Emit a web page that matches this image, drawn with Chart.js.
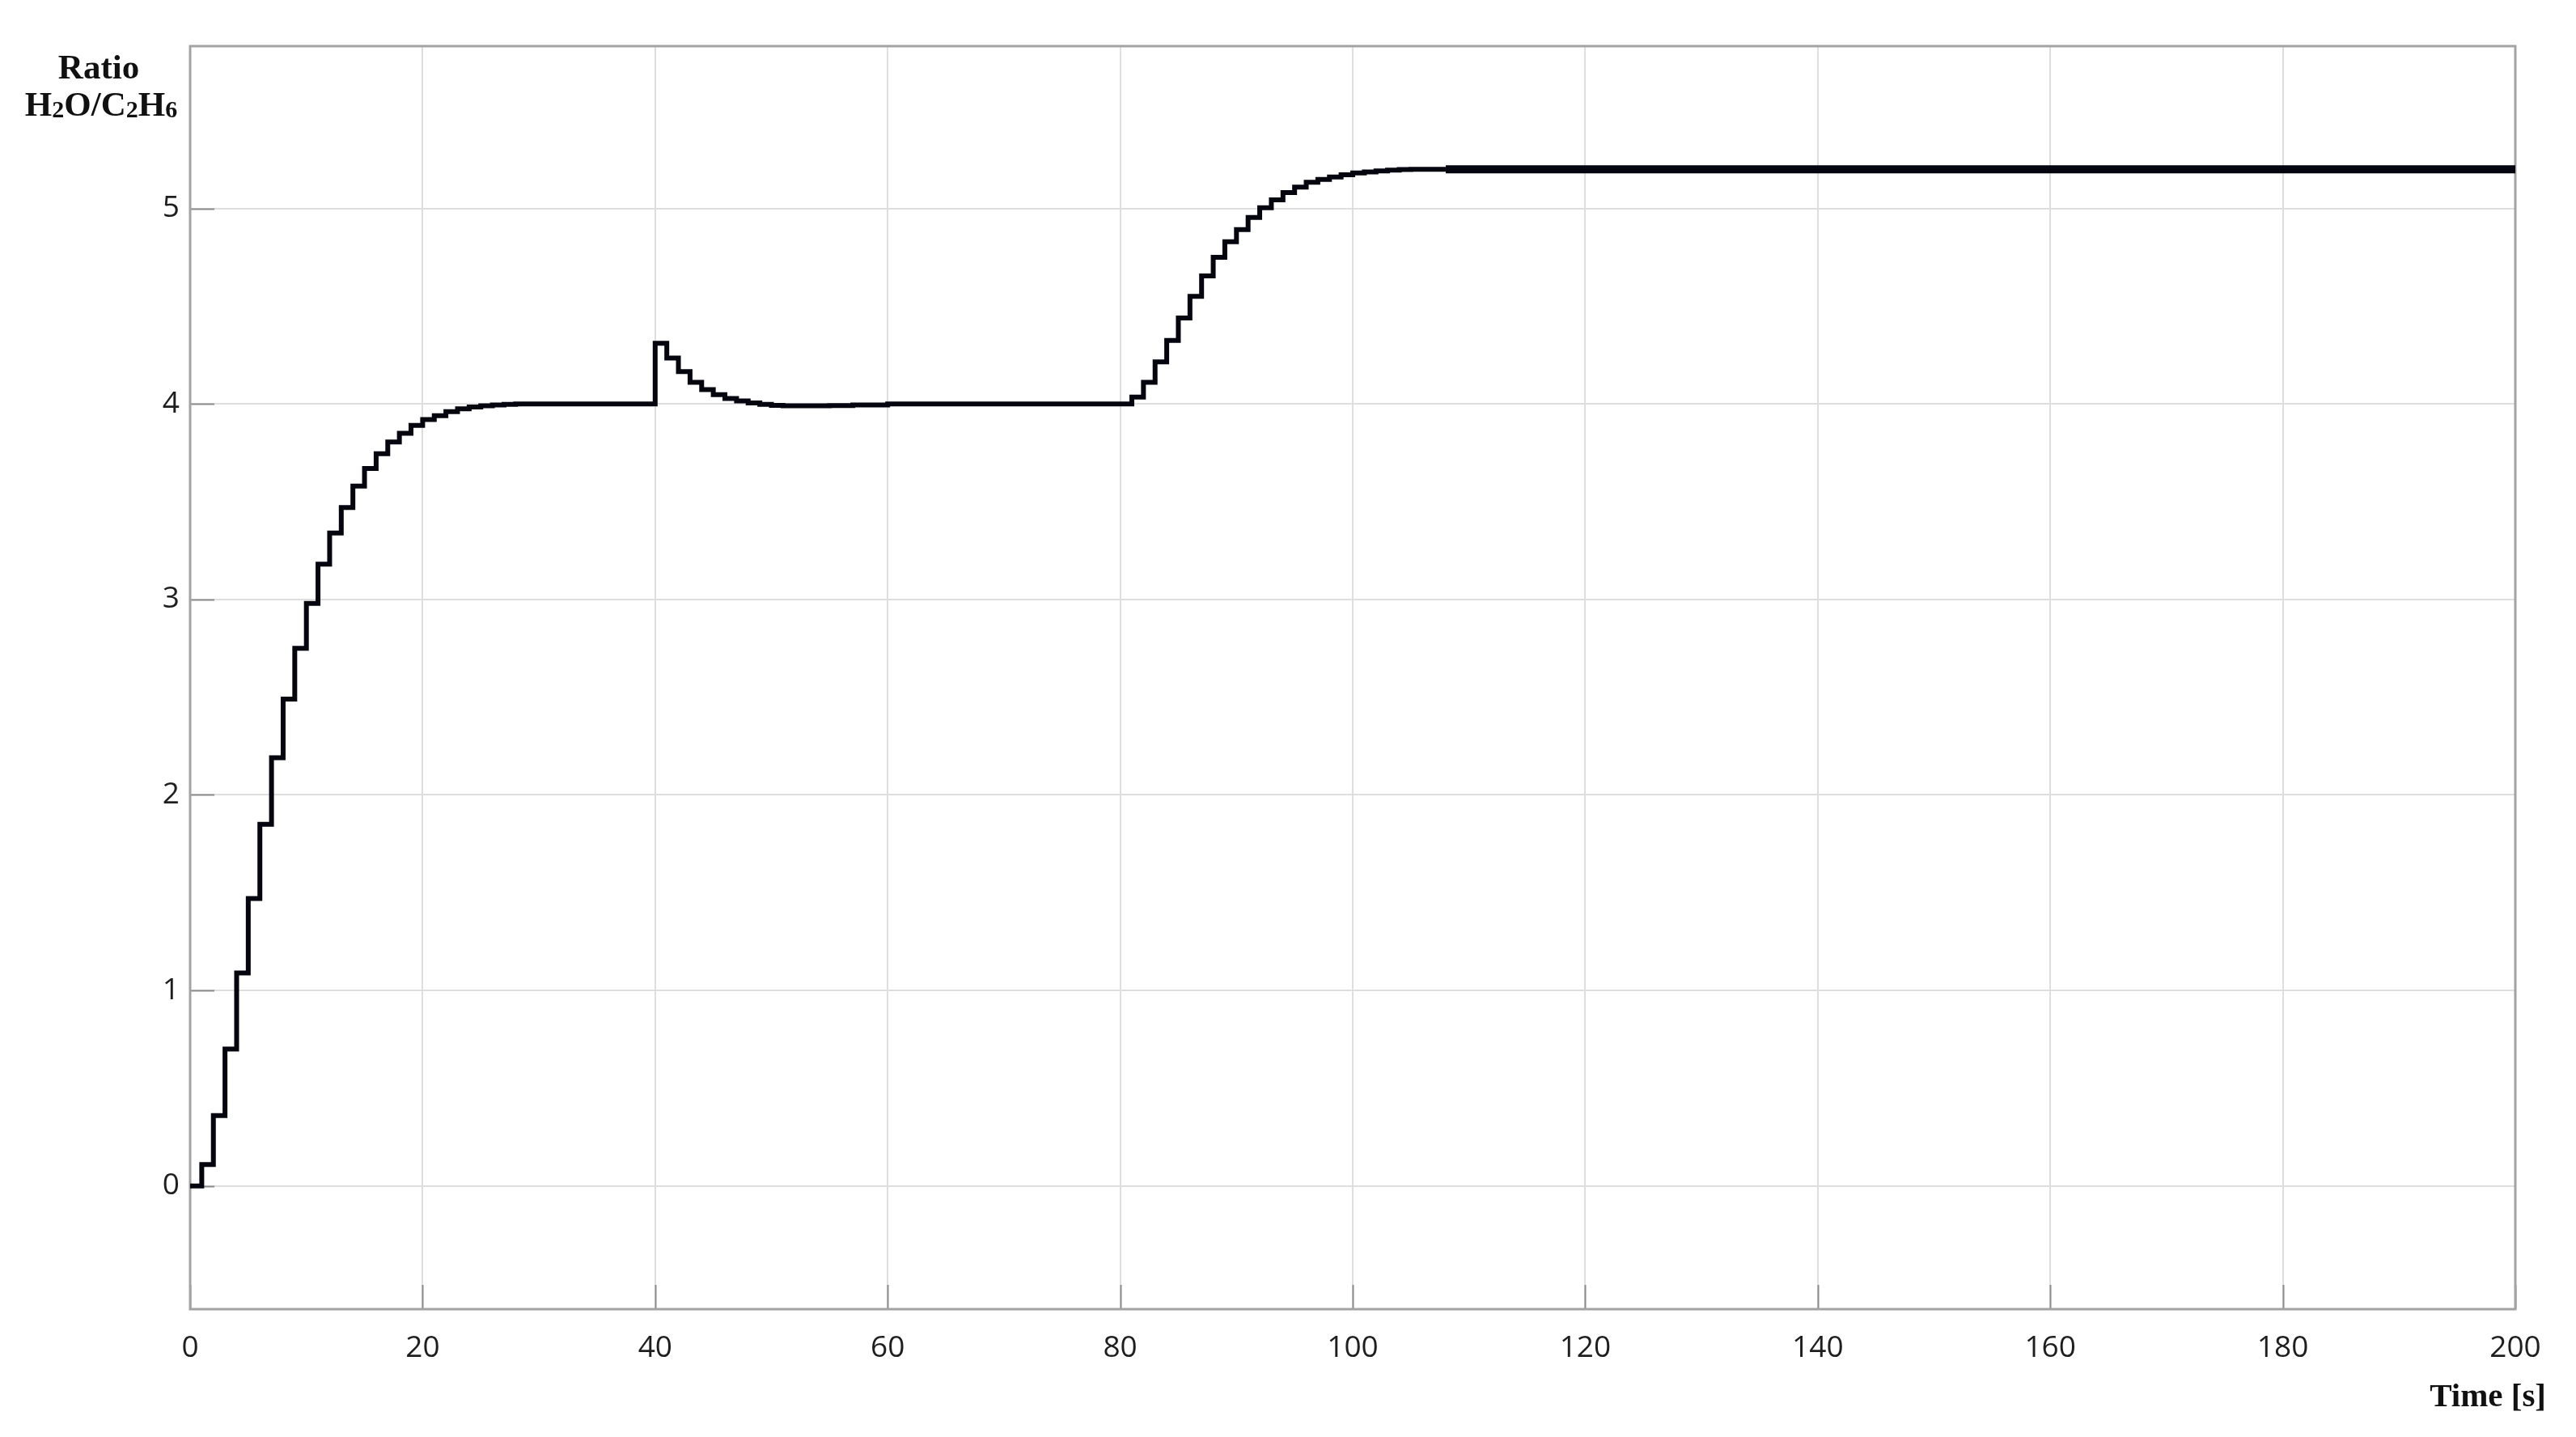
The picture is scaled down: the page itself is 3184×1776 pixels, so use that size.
<!DOCTYPE html>
<html>
<head>
<meta charset="utf-8">
<script src="https://cdn.jsdelivr.net/npm/chart.js@4.4.1/dist/chart.umd.min.js"></script>
<style>
  html, body { margin: 0; padding: 0; background: #ffffff; }
  #wrap { width: 3184px; height: 1776px; position: relative; }
  canvas { display: block; }
</style>
</head>
<body>
<div id="wrap"><canvas id="c" width="3184" height="1776"></canvas></div>
<script>
// ---- data ----
const timeS = [0,1,2,3,4,5,6,7,8,9,10,11,12,13,14,15,16,17,18,19,20,21,22,23,24,25,26,27,28,
  40,41,42,43,44,45,46,47,48,49,50,51,55,57,60,
  81,82,83,84,85,86,87,88,89,90,91,92,93,94,95,96,97,98,99,100,101,102,103,104,105,108,200];
const ratio = [0,0.11,0.36,0.70,1.09,1.47,1.85,2.19,2.49,2.75,2.98,3.18,3.34,3.47,3.58,3.67,3.745,3.805,3.85,3.89,3.92,3.94,3.96,3.975,3.984,3.99,3.995,3.998,4.0,
  4.31,4.235,4.165,4.11,4.073,4.047,4.028,4.015,4.005,3.998,3.993,3.99,3.992,3.995,4.0,
  4.035,4.11,4.215,4.325,4.44,4.55,4.655,4.75,4.83,4.892,4.954,5.003,5.044,5.081,5.109,5.134,5.148,5.161,5.172,5.181,5.187,5.192,5.196,5.199,5.2,5.2,5.2];
const xTicks = [0,20,40,60,80,100,120,140,160,180,200];
const yTicks = [0,1,2,3,4,5];
const yTitleLine1 = 'Ratio';
const yTitleParts = [['H',0],['2',1],['O/C',0],['2',1],['H',0],['6',1]];
const xTitle = 'Time [s]';

const points = timeS.map((t, i) => ({ x: t, y: ratio[i] }));

const framePlugin = {
  id: 'frame',
  beforeDatasetsDraw(chart) {
    const { ctx, chartArea: a, scales } = chart;
    ctx.save();
    // inner tick marks
    ctx.strokeStyle = '#8c8c8c';
    ctx.lineWidth = 2;
    ctx.beginPath();
    scales.x.ticks.forEach((tk, i) => {
      const px = Math.round(scales.x.getPixelForTick(i)) + 0.5;
      ctx.moveTo(px, a.bottom); ctx.lineTo(px, a.bottom - 30);
    });
    scales.y.ticks.forEach((tk, i) => {
      const py = Math.round(scales.y.getPixelForTick(i)) + 0.5;
      ctx.moveTo(a.left, py); ctx.lineTo(a.left + 30, py);
    });
    ctx.stroke();
    // frame
    ctx.strokeStyle = '#a3a3a3';
    ctx.lineWidth = 3;
    ctx.strokeRect(a.left, a.top, a.right - a.left, a.bottom - a.top);
    ctx.restore();
  },
  afterDraw(chart) {
    const { ctx } = chart;
    ctx.save();
    ctx.fillStyle = '#111111';
    ctx.textBaseline = 'alphabetic';
    const big = 'bold 43px "Liberation Serif", "Times New Roman", serif';
    const small = 'bold 30px "Liberation Serif", "Times New Roman", serif';
    // "Ratio"
    ctx.font = big;
    ctx.textAlign = 'center';
    ctx.fillText(yTitleLine1, 122, 97);
    // H2O/C2H6 with subscripts
    ctx.textAlign = 'left';
    let w = 0;
    yTitleParts.forEach(([s, sub]) => { ctx.font = sub ? small : big; w += ctx.measureText(s).width; });
    let x = 125 - w / 2;
    yTitleParts.forEach(([s, sub]) => {
      ctx.font = sub ? small : big;
      ctx.fillText(s, x, sub ? 145 : 143);
      x += ctx.measureText(s).width;
    });
    // Time [s]
    ctx.font = 'bold 41px "Liberation Serif", "Times New Roman", serif';
    ctx.textAlign = 'right';
    ctx.fillText(xTitle, 3147, 1738);
    ctx.restore();
  }
};

new Chart(document.getElementById('c'), {
  type: 'line',
  data: {
    datasets: [{
      data: points,
      stepped: 'before',
      borderColor: '#050510',
      borderWidth: 6,
      borderJoinStyle: 'miter',
      borderCapStyle: 'butt',
      pointRadius: 0,
      fill: false,
      segment: {
        borderWidth: c => (c.p0.parsed.x >= 108 ? 10 : 6)
      }
    }]
  },
  options: {
    responsive: false,
    devicePixelRatio: 1,
    animation: false,
    events: [],
    layout: { autoPadding: false, padding: { left: 0, right: 75, top: 57, bottom: 0 } },
    plugins: { legend: { display: false }, tooltip: { enabled: false }, title: { display: false } },
    scales: {
      x: {
        type: 'linear',
        min: 0, max: 200,
        afterBuildTicks: s => { s.ticks = xTicks.map(v => ({ value: v })); },
        afterFit: s => { s.height = 158; },
        grid: { color: '#dedede', lineWidth: 2, drawTicks: false },
        border: { display: false },
        ticks: {
          padding: 26,
          color: '#1e1e1e',
          font: { family: '"Open Sans", "Noto Sans", sans-serif', size: 37 },
          maxRotation: 0,
          autoSkip: false
        }
      },
      y: {
        type: 'linear',
        min: -0.63, max: 5.83,
        afterBuildTicks: s => { s.ticks = yTicks.map(v => ({ value: v })); },
        afterFit: s => { s.width = 235; },
        grid: { color: '#dedede', lineWidth: 2, drawTicks: false },
        border: { display: false },
        ticks: {
          padding: 13,
          color: '#1e1e1e',
          font: { family: '"Open Sans", "Noto Sans", sans-serif', size: 37 },
          autoSkip: false
        }
      }
    }
  },
  plugins: [framePlugin]
});
</script>
</body>
</html>
